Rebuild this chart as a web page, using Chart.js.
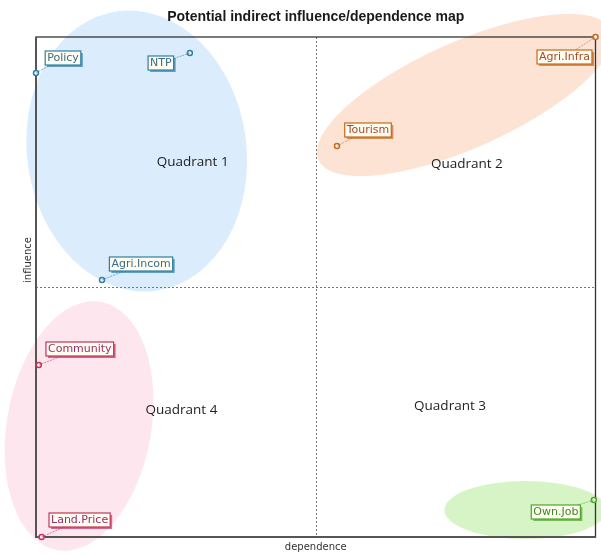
<!DOCTYPE html>
<html lang="en">
<head>
<meta charset="UTF-8">
<title>Potential indirect influence/dependence map</title>
<script src="https://cdn.jsdelivr.net/npm/chart.js"></script>
<style>
  body, html {
    margin: 0;
    background: #fff;
  }
  #wrap {
    position: relative;
    width: 601px;
    height: 555px;
  }
</style>
</head>
<body>
<div id="wrap"><canvas id="map"></canvas></div>
<script>
// variables (0 = low, 1 = high)
var names = ['Policy', 'NTP', 'Agri.Incom', 'Community', 'Land.Price', 'Tourism', 'Agri.Infra', 'Own.Job'];
var dependence = [0.0, 0.275, 0.118, 0.005, 0.01, 0.538, 1.0, 0.997];
var influence = [0.928, 0.968, 0.514, 0.344, 0.0, 0.782, 1.0, 0.074];
var groups = [0, 0, 0, 1, 1, 2, 2, 3];

var quadrantNames = ['Quadrant 1', 'Quadrant 2', 'Quadrant 3', 'Quadrant 4'];
var quadrantX = [0.28, 0.77, 0.74, 0.26];
var quadrantY = [0.75, 0.745, 0.262, 0.254];

// group colours: blue, pink, orange, green
var groupColor = ['#2d7fa3', '#c2345e', '#c46a1e', '#4fa52a'];
var groupText = ['#3a6d8a', '#9a2f6a', '#a8482a', '#3d8a22'];
var groupFill = ['rgba(190,220,250,0.55)', 'rgba(252,205,220,0.5)', 'rgba(252,200,170,0.5)', 'rgba(180,235,150,0.55)'];

// shaded clusters (centre, radius in axis units, tilt in degrees)
var blobX = [0.18, 0.077, 0.766, 0.875];
var blobY = [0.772, 0.222, 0.884, 0.054];
var blobRx = [0.196, 0.129, 0.286, 0.145];
var blobRy = [0.282, 0.252, 0.106, 0.058];
var blobTilt = [-8, 10, -24, 0];

// where each label box sits relative to its point (pixels)
var labelDx = [27, -29, 39, 41, 38, 31, -31, -38];
var labelDy = [-15, 10, -16, -16, -17, -16, 20, 12];

var mapPlugin = {
  id: 'mapPlugin',
  beforeDatasetsDraw: function(chart) {
    var c = chart.ctx, a = chart.chartArea;
    var xs = chart.scales.x, ys = chart.scales.y;
    c.save();
    // cluster ellipses
    for (var i = 0; i < blobX.length; i++) {
      var cx = xs.getPixelForValue(blobX[i]);
      var cy = ys.getPixelForValue(blobY[i]);
      var rx = Math.abs(xs.getPixelForValue(blobRx[i]) - xs.getPixelForValue(0));
      var ry = Math.abs(ys.getPixelForValue(blobRy[i]) - ys.getPixelForValue(0));
      c.beginPath();
      c.ellipse(cx, cy, rx, ry, blobTilt[i] * Math.PI / 180, 0, Math.PI * 2);
      c.fillStyle = groupFill[i];
      c.fill();
    }
    // quadrant divider lines
    var mx = xs.getPixelForValue(0.5), my = ys.getPixelForValue(0.5);
    c.strokeStyle = '#777';
    c.lineWidth = 1;
    c.setLineDash([2, 2]);
    c.beginPath();
    c.moveTo(Math.round(mx) + 0.5, a.top);
    c.lineTo(Math.round(mx) + 0.5, a.bottom);
    c.moveTo(a.left, Math.round(my) + 0.5);
    c.lineTo(a.right, Math.round(my) + 0.5);
    c.stroke();
    c.setLineDash([]);
    // frame
    c.strokeStyle = '#333';
    c.lineWidth = 1.3;
    c.strokeRect(a.left, a.top, a.right - a.left, a.bottom - a.top);
    c.strokeStyle = '#555';
    c.lineWidth = 2;
    c.beginPath();
    c.moveTo(a.left, a.top);
    c.lineTo(a.left, a.bottom);
    c.lineTo(a.right, a.bottom);
    c.stroke();
    // quadrant names
    c.fillStyle = '#222';
    c.font = '13.5px "Open Sans", "Liberation Sans", sans-serif';
    c.textAlign = 'center';
    c.textBaseline = 'middle';
    for (var q = 0; q < quadrantNames.length; q++) {
      c.fillText(quadrantNames[q], xs.getPixelForValue(quadrantX[q]), ys.getPixelForValue(quadrantY[q]));
    }
    // title and axis names
    c.fillStyle = '#1a1a1a';
    c.font = 'bold 14px "Liberation Sans", Arial, sans-serif';
    c.fillText('Potential indirect influence/dependence map', (a.left + a.right) / 2, 17);
    c.fillStyle = '#333';
    c.font = '10px "DejaVu Sans", sans-serif';
    c.fillText('dependence', (a.left + a.right) / 2, a.bottom + 10);
    c.translate(a.left - 8, (a.top + a.bottom) / 2 - 27);
    c.rotate(-Math.PI / 2);
    c.fillText('influence', 0, 0);
    c.restore();
  },
  afterDatasetsDraw: function(chart) {
    var c = chart.ctx;
    var meta = chart.getDatasetMeta(0);
    c.save();
    c.font = '11px "DejaVu Sans", sans-serif';
    c.textAlign = 'center';
    c.textBaseline = 'middle';
    meta.data.forEach(function(pt, i) {
      var g = groups[i];
      var bx = pt.x + labelDx[i], by = pt.y + labelDy[i];
      var w = c.measureText(names[i]).width + 4, h = 14;
      // leader line
      c.strokeStyle = groupColor[g];
      c.globalAlpha = 0.6;
      c.lineWidth = 1;
      c.setLineDash([2, 1]);
      c.beginPath();
      c.moveTo(pt.x, pt.y);
      c.lineTo(bx, by);
      c.stroke();
      c.setLineDash([]);
      c.globalAlpha = 1;
      // box with shadow
      c.fillStyle = groupColor[g];
      c.globalAlpha = 0.7;
      c.fillRect(bx - w / 2 + 2, by - h / 2 + 2, w, h);
      c.globalAlpha = 1;
      c.fillStyle = '#fffdf0';
      c.fillRect(bx - w / 2, by - h / 2, w, h);
      c.strokeStyle = groupColor[g];
      c.lineWidth = 1.2;
      c.strokeRect(bx - w / 2, by - h / 2, w, h);
      c.fillStyle = groupText[g];
      c.fillText(names[i], bx, by + 0.5);
    });
    c.restore();
  }
};

var pointColors = groups.map(function(g) { return groupColor[g]; });

new Chart(document.getElementById('map'), {
  type: 'scatter',
  data: {
    datasets: [{
      data: dependence.map(function(d, i) { return { x: d, y: influence[i] }; }),
      pointRadius: 2.5,
      pointBorderWidth: 1.5,
      pointBackgroundColor: '#fff',
      pointBorderColor: pointColors,
      clip: false
    }]
  },
  options: {
    responsive: true,
    maintainAspectRatio: false,
    animation: false,
    layout: { padding: { left: 36, right: 5, top: 37, bottom: 18 } },
    plugins: {
      legend: { display: false },
      tooltip: { enabled: false }
    },
    scales: {
      x: { type: 'linear', min: 0, max: 1, display: false },
      y: { type: 'linear', min: 0, max: 1, display: false }
    }
  },
  plugins: [mapPlugin]
});
</script>
</body>
</html>
